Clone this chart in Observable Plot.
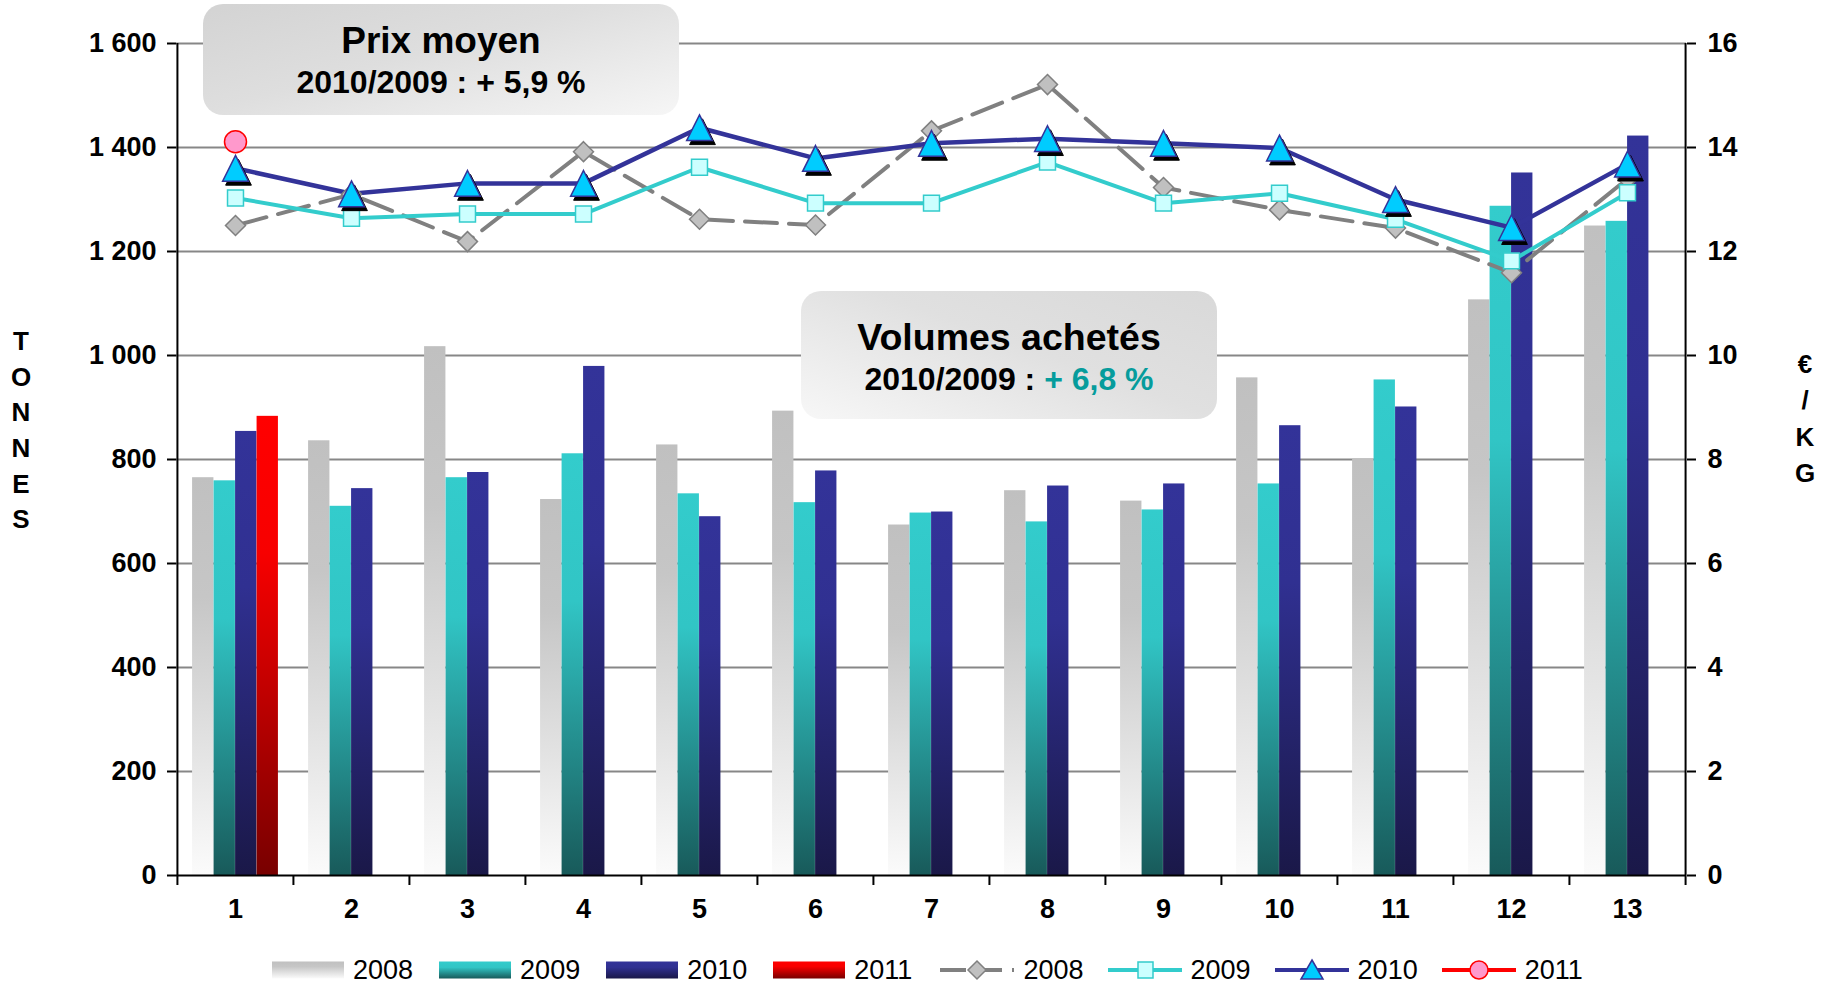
<!DOCTYPE html>
<html>
<head>
<meta charset="utf-8">
<script src="https://cdn.jsdelivr.net/npm/d3@7"></script>
<script src="https://cdn.jsdelivr.net/npm/@observablehq/plot@0.6"></script>
<style>
  html, body { margin: 0; padding: 0; background: #fff; }
  body { font-family: "Liberation Sans", Arial, sans-serif; }
  #wrap { position: relative; width: 1821px; height: 985px; overflow: hidden; background: #fff; }
  #chart { position: absolute; left: 0; top: 0; }
  .box { position: absolute; border-radius: 20px; }
  .btxt { position: absolute; left: 0; right: 0; text-align: center; font-weight: bold; color: #000; white-space: nowrap; }
  .vlab { position: absolute; font-weight: bold; font-size: 26px; text-align: center; width: 30px; }
  .vlab div { height: 35.7px; line-height: 35.7px; }
  .leg { position: absolute; top: 958px; height: 24px; display: flex; align-items: center; font-size: 27px; color: #000; }
  .leg span { margin-left: 9px; line-height: 24px; }
</style>
</head>
<body>
<svg width="0" height="0" style="position:absolute">
  <defs>
    <linearGradient id="g2008" x1="0" y1="0" x2="0" y2="1">
      <stop offset="0" stop-color="#c0c0c0"/><stop offset="0.3" stop-color="#c6c6c6"/><stop offset="1" stop-color="#fbfbfb"/>
    </linearGradient>
    <linearGradient id="g2009" x1="0" y1="0" x2="0" y2="1">
      <stop offset="0" stop-color="#33cccc"/><stop offset="0.35" stop-color="#31c5c5"/><stop offset="1" stop-color="#185a5a"/>
    </linearGradient>
    <linearGradient id="g2010" x1="0" y1="0" x2="0" y2="1">
      <stop offset="0" stop-color="#333399"/><stop offset="0.35" stop-color="#303091"/><stop offset="1" stop-color="#1a1848"/>
    </linearGradient>
    <linearGradient id="g2011" x1="0" y1="0" x2="0" y2="1">
      <stop offset="0" stop-color="#ff0000"/><stop offset="0.3" stop-color="#f70000"/><stop offset="1" stop-color="#780000"/>
    </linearGradient>
  </defs>
</svg>
<div id="wrap">
  <div id="chart"></div>
</div>
<script>
// ---------- data ----------
const periods = ["1","2","3","4","5","6","7","8","9","10","11","12","13"];
const years = ["2008","2009","2010","2011"];

// Volumes achetés (tonnes)
const vol2008 = [765, 836, 1017, 723, 828, 893, 674, 740, 720, 957, 800, 1107, 1249];
const vol2009 = [759, 710, 765, 811, 734, 717, 697, 680, 703, 753, 953, 1287, 1258];
const vol2010 = [854, 744, 775, 979, 690, 778, 699, 749, 753, 865, 901, 1351, 1422];
const vol2011 = [883];

// Prix moyen (€/kg)
const prix2008 = [12.50, 13.10, 12.19, 13.92, 12.62, 12.51, 14.32, 15.21, 13.23, 12.80, 12.45, 11.59, 13.40];
const prix2009 = [13.03, 12.64, 12.72, 12.72, 13.62, 12.93, 12.93, 13.72, 12.93, 13.12, 12.62, 11.82, 13.13];
const prix2010 = [13.60, 13.11, 13.31, 13.31, 14.38, 13.79, 14.08, 14.17, 14.08, 13.99, 13.00, 12.46, 13.68];
const prix2011 = [14.11];

const leftTicks = [0, 200, 400, 600, 800, 1000, 1200, 1400, 1600];

const titlePrix = "Prix moyen";
const subPrix = "2010/2009 : + 5,9 %";
const titleVol = "Volumes achetés";
const subVolA = "2010/2009 : ";
const subVolB = "+ 6,8 %";
const leftLabel = "TONNES";
const rightLabel = ["€", "/", "K", "G"];

// ---------- helpers ----------
const rows = arr => arr.map((v, i) => ({p: periods[i], v}));
const fmtT = d3.formatLocale({thousands: " ", grouping: [3], decimal: ","}).format(",");

const W = 1821, H = 950;
const mL = 176, mR = 135, mT = 43, mB = 75;
const bw = (W - mL - mR) / periods.length;
const barW = 21.5;
const inset = (bw - barW) / 2;
const offs = [-1.5, -0.5, 0.5, 1.5].map(k => k * barW);

const RATIO = 100; // 1 €/kg on right axis = 100 t on left axis

const triSym = {
  draw(ctx, size) {
    const k = Math.sqrt(size / Math.PI);
    const w = 1.25 * k, h = 1.25 * k;
    ctx.moveTo(0, -h); ctx.lineTo(w, h); ctx.lineTo(-w, h); ctx.closePath();
  }
};

const volSeries = [vol2008, vol2009, vol2010, vol2011];
const gradIds = ["g2008", "g2009", "g2010", "g2011"];

const barMarks = volSeries.map((s, j) =>
  Plot.barY(rows(s), {x: "p", y: "v", fill: `url(#${gradIds[j]})`, insetLeft: inset, insetRight: inset, dx: offs[j]})
);

const py = d => d.v * RATIO;
const FS = 27;

const chart = Plot.plot({
  width: W, height: H,
  marginLeft: mL, marginRight: mR, marginTop: mT, marginBottom: mB,
  style: {fontFamily: "'Liberation Sans', Arial, sans-serif", fontWeight: "bold", fontSize: FS + "px", color: "#000", background: "transparent", overflow: "visible"},
  x: {type: "band", domain: periods, padding: 0, label: null},
  y: {domain: [0, 1600], label: null},
  marks: [
    Plot.ruleY(leftTicks.filter(d => d > 0), {stroke: "#878787", strokeWidth: 2}),
    ...barMarks,
    // frame verticals and baseline
    Plot.ruleX([periods[0]], {dx: -bw / 2, y1: 0, y2: 1600, stroke: "#000", strokeWidth: 2}),
    Plot.ruleX([periods[periods.length - 1]], {dx: bw / 2, y1: 0, y2: 1600, stroke: "#000", strokeWidth: 2}),
    Plot.ruleY([0], {stroke: "#000", strokeWidth: 2}),
    // axes
    Plot.axisY({anchor: "left", ticks: leftTicks, tickFormat: fmtT, tickSize: 9, tickPadding: 11, fontSize: FS, fontWeight: "bold", stroke: "#000", strokeWidth: 2, label: null}),
    Plot.axisY({anchor: "right", ticks: leftTicks, tickFormat: d => String(d / RATIO), tickSize: 9, tickPadding: 12, fontSize: FS, fontWeight: "bold", stroke: "#000", strokeWidth: 2, label: null}),
    Plot.axisX({ticks: periods, tickSize: 10, tickFormat: () => "", dx: -bw / 2, stroke: "#000", strokeWidth: 2, label: null}),
    Plot.axisX({ticks: [periods[periods.length - 1]], tickSize: 10, tickFormat: () => "", dx: bw / 2, stroke: "#000", strokeWidth: 2, label: null}),
    Plot.axisX({ticks: periods, tickSize: 0, tickPadding: 23, fontSize: FS, fontWeight: "bold", label: null}),
    // price lines
    Plot.line(rows(prix2008), {x: "p", y: py, stroke: "#808080", strokeWidth: 4, strokeDasharray: "32,12"}),
    Plot.line(rows(prix2009), {x: "p", y: py, stroke: "#33cccc", strokeWidth: 4}),
    Plot.line(rows(prix2010), {x: "p", y: py, stroke: "#333399", strokeWidth: 4.5}),
    // markers
    Plot.dot(rows(prix2008), {x: "p", y: py, symbol: "diamond2", r: 9, fill: "#c0c0c0", stroke: "#808080", strokeWidth: 1.5}),
    Plot.dot(rows(prix2009), {x: "p", y: py, symbol: "square", r: 9, fill: "#ccffff", stroke: "#33cccc", strokeWidth: 1.5}),
    Plot.dot(rows(prix2010), {x: "p", y: py, symbol: triSym, r: 10.3, fill: "#000", stroke: "#000", strokeWidth: 1, dx: 3, dy: 4}),
    Plot.dot(rows(prix2010), {x: "p", y: py, symbol: triSym, r: 10.3, fill: "#00ccff", stroke: "#333399", strokeWidth: 1.5}),
    Plot.dot(rows(prix2011), {x: "p", y: py, symbol: "circle", r: 11, fill: "#ff99cc", stroke: "#ff0000", strokeWidth: 1.5})
  ]
});
document.getElementById("chart").append(chart);

// ---------- overlays ----------
const wrap = document.getElementById("wrap");
function el(tag, cls, style, html) {
  const e = document.createElement(tag);
  if (cls) e.className = cls;
  if (style) e.setAttribute("style", style);
  if (html != null) e.innerHTML = html;
  return e;
}

// Prix moyen box
const b1 = el("div", "box", "left:203px;top:4px;width:476px;height:111px;background:linear-gradient(165deg,#d3d3d3 0%,#dedede 45%,#f6f6f6 100%);");
b1.append(el("div", "btxt", "top:18px;font-size:37px;line-height:37px;", titlePrix));
b1.append(el("div", "btxt", "top:62px;font-size:32px;line-height:32px;", subPrix));
wrap.append(b1);

// Volumes achetés box
const b2 = el("div", "box", "left:801px;top:291px;width:416px;height:128px;background:linear-gradient(200deg,#d9d9d9 0%,#e0e0e0 45%,#f7f7f7 100%);");
b2.append(el("div", "btxt", "top:28px;font-size:37.5px;line-height:37.5px;", titleVol));
b2.append(el("div", "btxt", "top:72px;font-size:32px;line-height:32px;", subVolA + '<span style="color:#069c9c">' + subVolB + '</span>'));
wrap.append(b2);

// vertical axis labels
const vl = el("div", "vlab", "left:6px;top:324px;");
leftLabel.split("").forEach(c => vl.append(el("div", null, null, c)));
wrap.append(vl);
const vr = el("div", "vlab", "left:1790px;top:346px;");
rightLabel.forEach(c => vr.append(el("div", null, "height:36.3px;line-height:36.3px;", c)));
wrap.append(vr);

// legend
const legLeft = 272, legStep = 167.1;
const barSw = g => `<svg width="72" height="24"><rect x="0" y="3.5" width="72" height="17" fill="url(#${g})"/></svg>`;
const lineSw = (stroke, dash, marker) => `<svg width="74" height="24" style="overflow:visible"><line x1="0" y1="12" x2="74" y2="12" stroke="${stroke}" stroke-width="4" ${dash ? 'stroke-dasharray="26,10"' : ''}/>${marker}</svg>`;
const legendItems = [
  {label: years[0], sw: barSw("g2008")},
  {label: years[1], sw: barSw("g2009")},
  {label: years[2], sw: barSw("g2010")},
  {label: years[3], sw: barSw("g2011")},
  {label: years[0], sw: lineSw("#808080", true, '<path d="M37,3 L46,12 L37,21 L28,12 Z" fill="#c0c0c0" stroke="#808080" stroke-width="1.5"/>')},
  {label: years[1], sw: lineSw("#33cccc", false, '<rect x="30" y="4" width="15" height="16" fill="#ccffff" stroke="#33cccc" stroke-width="1.5"/>')},
  {label: years[2], sw: lineSw("#333399", false, '<path d="M37,2 L48,21 L26,21 Z" fill="#00ccff" stroke="#333399" stroke-width="1.5"/>')},
  {label: years[3], sw: lineSw("#ff0000", false, '<circle cx="37" cy="12" r="9" fill="#ff99cc" stroke="#ff0000" stroke-width="1.5"/>')}
];
legendItems.forEach((it, i) => {
  const d = el("div", "leg", `left:${legLeft + i * legStep}px;`);
  d.innerHTML = it.sw + `<span>${it.label}</span>`;
  wrap.append(d);
});
</script>
</body>
</html>
